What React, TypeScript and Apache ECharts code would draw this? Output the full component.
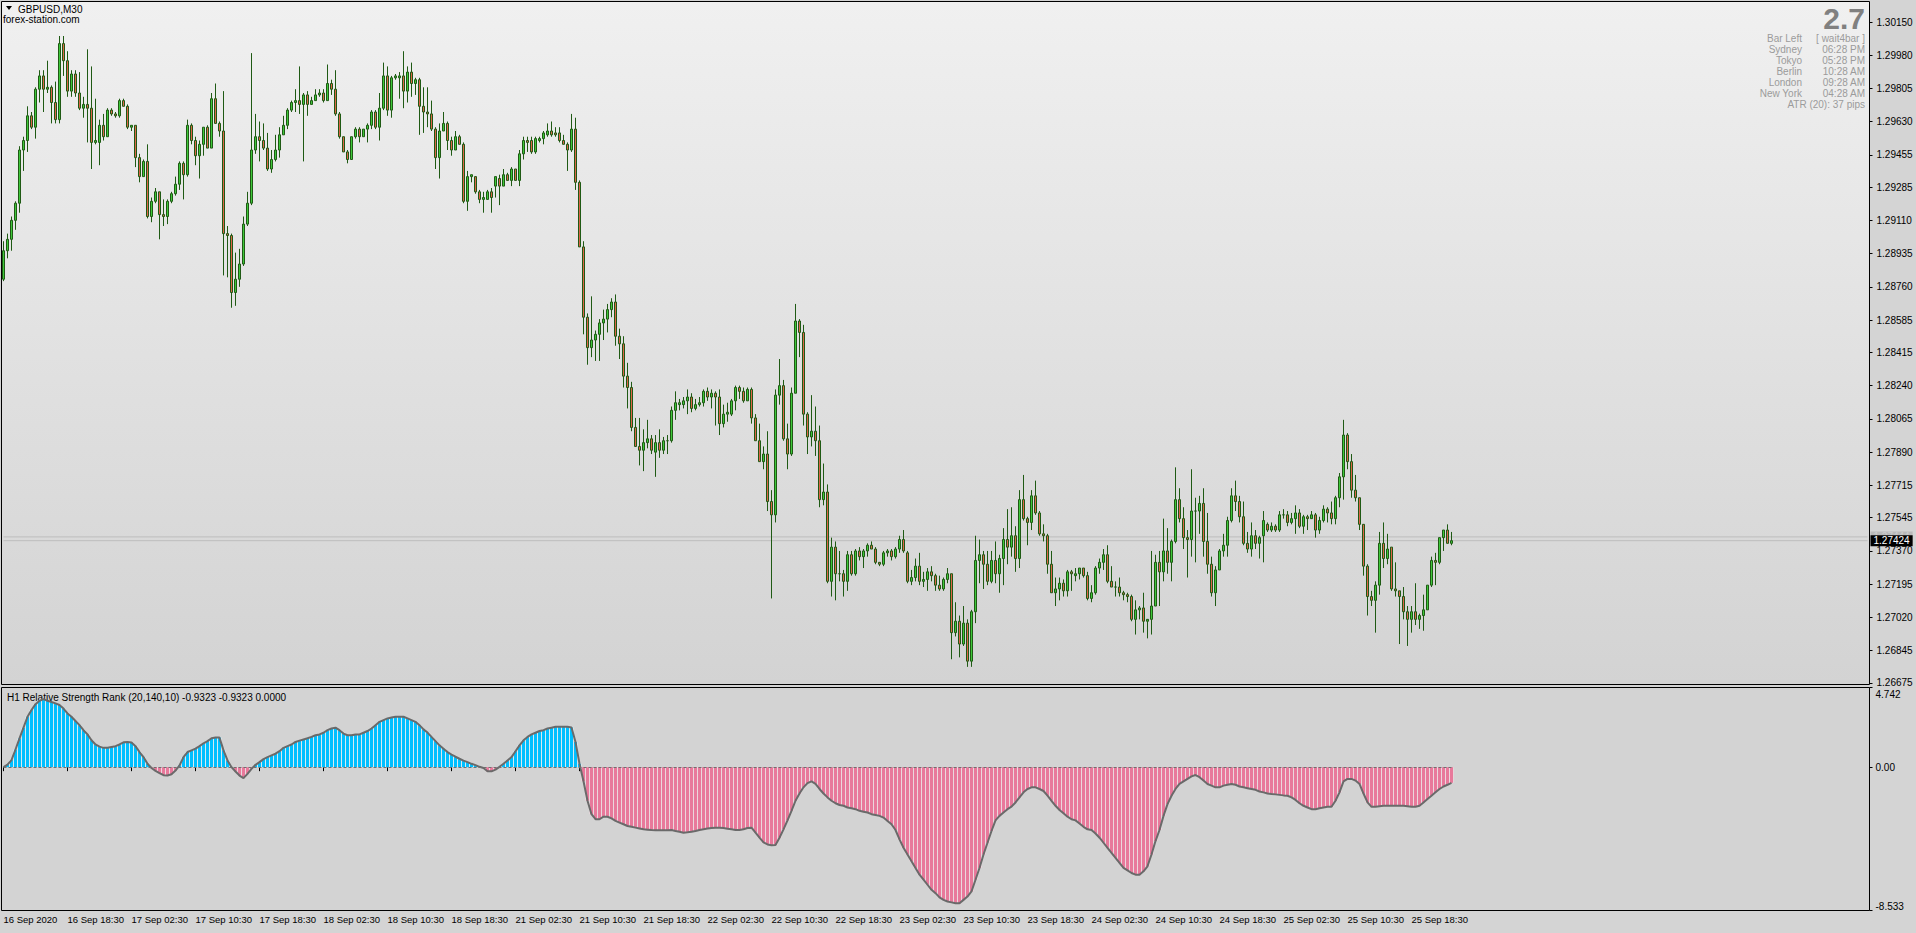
import React, { useEffect, useRef } from 'react';
import * as echarts from 'echarts';

// prices stored as pips above 1.26000
const BASE = 1.26;
const opens = [
280,295,301,311,320,348,353,366,360,380,
387,380,381,373,364,404,395,379,388,378,
370,372,370,352,352,361,355,369,367,366,
374,371,360,361,344,334,342,313,321,326,
314,313,321,325,330,341,335,361,353,345,
351,360,349,375,362,358,304,303,273,280,
288,309,320,348,355,353,349,338,343,348,
356,361,369,373,374,372,377,372,374,377,
378,374,383,380,367,355,347,343,355,359,
355,359,361,368,360,370,387,369,386,386,
387,379,389,383,385,371,368,367,359,344,
358,362,353,348,355,351,321,334,334,326,
322,322,326,329,333,329,335,332,338,332,
346,353,353,347,353,354,356,358,357,357,
353,351,348,359,331,297,260,244,248,251,
257,259,264,268,250,246,229,223,202,192,
190,194,196,189,194,190,195,195,211,214,
214,216,218,212,214,215,221,218,220,218,
204,209,209,216,223,221,216,222,207,195,
184,188,163,156,219,224,196,188,220,258,
252,209,197,200,195,164,168,121,139,125,
125,121,135,125,137,134,137,140,138,131,
130,136,137,134,138,143,136,121,123,129,
121,122,126,124,119,117,122,125,94,100,
88,99,79,105,132,135,130,121,132,125,
133,143,139,145,133,164,154,152,166,157,
146,145,130,115,117,120,116,126,124,125,
128,124,112,115,128,131,135,121,118,118,
115,114,113,101,106,107,100,101,108,131,
126,137,131,142,164,154,144,143,158,158,
162,142,130,115,127,137,140,153,166,163,
155,141,138,145,141,145,151,148,150,148,
156,156,152,154,157,150,155,154,156,148,
153,159,157,154,165,176,198,184,169,165,
151,129,113,111,119,141,133,139,117,116,
113,105,101,105,101,103,106,119,132,131,
144,148,141];
const closes = [
295,301,311,320,348,353,366,360,380,387,
380,381,373,364,404,395,379,388,378,370,
372,370,352,353,361,355,369,367,366,374,
371,360,361,344,334,342,313,321,326,314,
313,321,325,330,341,335,361,353,345,351,
360,349,375,362,358,304,303,273,280,288,
309,320,348,355,353,349,338,343,348,356,
361,369,373,374,372,377,372,374,377,378,
374,383,380,367,355,347,343,355,359,355,
359,361,368,360,370,387,369,386,387,387,
379,389,383,385,371,368,367,359,344,358,
362,353,348,355,351,321,334,335,326,322,
323,326,323,334,329,335,332,338,332,346,
353,352,347,354,354,357,358,356,356,353,
351,348,359,331,297,260,244,248,251,257,
259,264,268,250,246,229,223,202,192,190,
194,196,190,194,190,195,195,211,215,215,
216,218,212,214,215,221,218,220,218,204,
209,210,216,223,221,216,222,207,195,184,
188,163,156,219,224,196,188,220,258,252,
209,197,200,195,164,168,121,139,125,125,
121,135,125,137,134,137,140,138,131,130,
136,137,134,138,143,137,121,123,129,121,
122,126,124,119,117,122,125,94,100,88,
99,79,105,132,135,130,121,132,125,133,
143,139,145,133,164,154,152,166,157,146,
145,130,115,117,120,116,126,125,125,128,
124,112,115,128,131,135,121,118,118,115,
114,113,101,106,107,100,101,108,131,126,
137,131,142,164,154,144,143,158,158,162,
142,130,115,127,137,140,153,166,163,155,
141,138,145,141,144,153,148,150,148,156,
156,152,154,157,150,155,154,156,148,153,
159,157,154,165,176,198,184,169,165,151,
129,113,111,119,141,133,138,117,116,113,
105,101,105,101,103,106,119,132,131,144,
148,141,142.4];
const highs = [
300,304,313,321,350,355,371,368,381,390,
390,395,382,384,408,408,400,390,390,389,
376,401,392,375,364,367,370,370,368,375,
375,372,361,361,346,343,351,323,328,326,
322,322,326,334,342,342,364,362,355,353,
360,361,378,383,363,379,308,304,294,296,
313,326,399,367,363,362,357,348,356,360,
366,370,374,380,392,378,379,376,380,380,
380,393,385,390,368,355,348,355,360,360,
359,362,369,369,378,394,392,387,388,389,
400,392,394,386,386,381,381,374,360,362,
368,363,355,358,356,352,337,335,334,327,
326,327,328,334,335,338,336,339,338,348,
355,355,355,355,355,358,362,363,360,360,
356,352,367,365,332,300,262,271,253,259,
264,267,270,272,254,250,236,226,207,207,
201,206,198,198,201,197,198,213,221,217,
218,222,220,217,218,222,223,222,221,222,
214,215,217,224,224,223,223,223,209,204,
192,200,169,222,238,227,204,223,267,259,
256,210,219,213,203,183,172,144,142,137,
127,137,137,138,139,138,141,142,139,131,
137,138,138,139,145,148,137,127,133,136,
126,128,129,125,124,123,128,125,110,103,
108,101,106,145,143,137,137,137,142,135,
149,159,160,150,169,177,155,169,174,158,
151,146,137,123,123,122,127,127,128,128,
128,126,119,129,133,138,140,129,121,123,
116,115,114,111,108,115,101,137,135,137,
154,149,143,181,170,160,148,180,165,166,
170,157,134,129,138,146,155,170,174,166,
163,147,152,148,145,158,152,152,151,158,
159,158,157,161,159,156,156,158,157,155,
161,160,163,166,178,206,199,188,177,165,
151,130,116,121,147,152,146,139,131,116,
118,108,108,120,104,114,119,134,136,144,
148,151,147];
const lows = [
279,291,295,306,315,337,347,359,354,373,
368,378,362,362,362,387,376,376,376,369,
365,352,338,351,340,353,355,366,365,365,
371,359,358,339,331,334,312,310,320,301,
308,309,320,324,327,322,334,351,340,333,
345,349,349,362,355,282,281,265,266,276,
287,308,319,346,342,348,337,336,342,344,
356,359,368,368,367,342,366,372,374,376,
373,374,377,366,354,347,341,343,354,352,
355,352,359,359,353,369,366,365,385,375,
370,373,376,377,356,357,360,358,338,333,
358,348,345,348,351,320,316,331,325,320,
315,322,315,323,319,329,332,329,332,329,
343,347,346,346,352,351,355,355,355,352,
351,337,347,327,297,251,235,239,237,237,
248,252,260,245,238,223,212,200,192,182,
179,191,188,176,186,188,188,194,206,211,
212,209,210,211,213,213,216,212,203,198,
202,205,208,211,217,215,216,204,195,184,
180,158,112,152,214,195,180,187,220,239,
203,188,192,187,160,161,120,113,111,121,
113,116,124,124,132,128,134,138,130,129,
129,134,132,133,136,136,120,119,121,119,
118,116,121,116,116,116,120,80,92,81,
87,76,76,99,120,117,119,120,120,115,
119,130,134,126,128,153,140,148,156,145,
142,125,115,108,111,113,113,116,121,122,
123,111,110,114,125,127,120,118,113,113,
111,110,100,93,101,94,91,93,108,108,
121,125,121,141,152,138,123,134,131,146,
134,125,113,108,127,134,134,152,158,152,
140,136,134,138,133,131,147,147,147,147,
154,150,151,146,149,146,148,154,144,146,
152,152,151,151,160,164,180,165,163,148,
124,103,108,94,114,128,130,116,113,88,
101,87,94,98,96,95,106,118,119,130,
137,141,140];

// H1 Relative Strength Rank values per bar
const rsr = [
0,0.15,0.42,1.05,1.71,2.35,3.0,3.4,3.75,3.95,
4.05,3.95,3.88,3.8,3.7,3.49,3.2,3.0,2.75,2.5,
2.2,1.95,1.6,1.35,1.22,1.15,1.15,1.2,1.25,1.35,
1.48,1.5,1.47,1.25,0.9,0.6,0.2,-0.05,-0.22,-0.35,
-0.48,-0.5,-0.42,-0.2,0.1,0.6,0.9,1.0,1.1,1.25,
1.42,1.55,1.72,1.76,1.76,1.0,0.4,0.0,-0.26,-0.5,
-0.65,-0.4,-0.1,0.14,0.3,0.48,0.6,0.7,0.8,0.95,
1.15,1.25,1.35,1.5,1.58,1.65,1.72,1.8,1.9,1.95,
2.05,2.2,2.3,2.35,2.2,2.0,1.9,1.9,1.95,1.95,
2.05,2.15,2.3,2.5,2.7,2.8,2.9,2.95,3.0,3.0,
3.0,2.9,2.8,2.7,2.5,2.25,2.06,1.8,1.55,1.3,
1.1,0.9,0.75,0.62,0.5,0.39,0.3,0.2,0.12,0.02,
-0.05,-0.25,-0.25,-0.15,0.02,0.2,0.4,0.6,0.95,1.3,
1.6,1.8,1.95,2.05,2.15,2.2,2.3,2.35,2.4,2.4,
2.4,2.4,2.36,1.5,0.2,-0.84,-2.0,-2.8,-3.1,-3.1,
-2.95,-2.95,-3.05,-3.2,-3.3,-3.4,-3.5,-3.55,-3.6,-3.65,
-3.7,-3.72,-3.74,-3.75,-3.75,-3.75,-3.75,-3.74,-3.8,-3.85,
-3.9,-3.88,-3.85,-3.8,-3.74,-3.7,-3.65,-3.62,-3.6,-3.6,
-3.62,-3.66,-3.7,-3.74,-3.74,-3.7,-3.62,-3.6,-3.9,-4.2,
-4.48,-4.6,-4.65,-4.63,-4.2,-3.7,-3.17,-2.6,-2.0,-1.57,
-1.2,-0.95,-0.85,-1.0,-1.3,-1.57,-1.8,-2.0,-2.15,-2.25,
-2.3,-2.4,-2.45,-2.5,-2.6,-2.65,-2.7,-2.8,-2.85,-2.9,
-3.0,-3.2,-3.4,-3.74,-4.3,-4.8,-5.2,-5.6,-6.0,-6.4,
-6.7,-7.0,-7.3,-7.5,-7.75,-7.9,-8.0,-8.05,-8.1,-8.1,
-7.9,-7.7,-7.4,-6.7,-6.0,-5.2,-4.5,-3.8,-3.17,-2.9,
-2.7,-2.5,-2.35,-2.1,-1.8,-1.5,-1.3,-1.2,-1.2,-1.3,
-1.42,-1.7,-2.0,-2.3,-2.55,-2.75,-2.95,-3.1,-3.17,-3.35,
-3.55,-3.7,-3.74,-3.95,-4.2,-4.5,-4.8,-5.1,-5.4,-5.7,
-6.0,-6.15,-6.3,-6.4,-6.4,-6.2,-5.9,-5.2,-4.4,-3.74,
-2.9,-2.2,-1.7,-1.3,-1.0,-0.85,-0.7,-0.55,-0.47,-0.6,
-0.8,-1.0,-1.1,-1.2,-1.2,-1.1,-1.05,-1.0,-1.05,-1.15,
-1.2,-1.25,-1.3,-1.35,-1.45,-1.5,-1.57,-1.6,-1.62,-1.65,
-1.68,-1.7,-1.8,-1.95,-2.15,-2.3,-2.4,-2.5,-2.5,-2.45,
-2.4,-2.36,-2.36,-2.0,-1.5,-0.85,-0.7,-0.7,-0.8,-1.0,
-1.57,-2.1,-2.36,-2.36,-2.33,-2.3,-2.3,-2.3,-2.3,-2.3,
-2.3,-2.33,-2.36,-2.36,-2.3,-2.1,-1.9,-1.7,-1.5,-1.3,
-1.15,-1.05,-0.9323];

const timeLabels = ['16 Sep 2020','16 Sep 18:30','17 Sep 02:30','17 Sep 10:30','17 Sep 18:30','18 Sep 02:30','18 Sep 10:30','18 Sep 18:30','21 Sep 02:30','21 Sep 10:30','21 Sep 18:30','22 Sep 02:30','22 Sep 10:30','22 Sep 18:30','23 Sep 02:30','23 Sep 10:30','23 Sep 18:30','24 Sep 02:30','24 Sep 10:30','24 Sep 18:30','25 Sep 02:30','25 Sep 10:30','25 Sep 18:30'];
const LABEL_EVERY = 16;
const SLOTS = 467;
const priceTicks = [1.30150,1.29980,1.29805,1.29630,1.29455,1.29285,1.29110,1.28935,1.28760,1.28585,1.28415,1.28240,1.28065,1.27890,1.27715,1.27545,1.27370,1.27195,1.27020,1.26845,1.26675];
const bidPrice = 1.27424;
const askPrice = 1.27444;
const indTicks = [4.742, 0, -8.533];
const infoLabels = ['Bar Left','Sydney','Tokyo','Berlin','London','New York'];
const infoValues = ['[ wait4bar ]','06:28 PM','05:28 PM','10:28 AM','09:28 AM','04:28 AM'];
const atrText = 'ATR (20): 37 pips';
const spreadText = '2.7';
const indTitle = 'H1 Relative Strength Rank (20,140,10) -0.9323 -0.9323 0.0000';

const FONT = '"Liberation Sans", Arial, sans-serif';

export default function App() {
  const ref = useRef<HTMLDivElement>(null);
  useEffect(() => {
    if (!ref.current) return;
    const chart = echarts.init(ref.current, undefined, { renderer: 'svg' });
    const P = (v: number) => +(BASE + v / 10000).toFixed(5);
    const candles = opens.map((o, i) => [P(o), P(closes[i]), P(lows[i]), P(highs[i])]);
    const cats = Array.from({ length: SLOTS }, (_, i) => String(i));
    const showIdx = (i: number) => i % LABEL_EVERY === 0 && i / LABEL_EVERY < timeLabels.length;
    const last = opens.length - 1;

    const infoGraphics: any[] = [];
    const rowY = [38, 49, 60, 71, 82, 93];
    infoLabels.forEach((t, k) => {
      infoGraphics.push({ type: 'text', x: 1802, y: rowY[k], style: { text: t, fill: '#9b9b9b', font: `10px ${FONT}`, align: 'right', verticalAlign: 'middle' } });
      infoGraphics.push({ type: 'text', x: 1865, y: rowY[k], style: { text: infoValues[k], fill: '#9b9b9b', font: `10px ${FONT}`, align: 'right', verticalAlign: 'middle' } });
    });

    const priceLine = (price: number, bg: string, fg: string, z: number) => ({
      type: 'line', xAxisIndex: 0, yAxisIndex: 0, z, silent: true, symbol: 'none',
      data: [[0, price], [SLOTS - 1, price]],
      lineStyle: { color: '#bdbdbd', width: 1 },
      endLabel: { show: true, distance: 3, formatter: price.toFixed(5), backgroundColor: bg, color: fg,
        padding: [1, 3, 0, 3], fontSize: 10, fontFamily: FONT },
    });

    chart.setOption({
      animation: false,
      backgroundColor: '#d4d4d4',
      grid: [
        { left: 1.5, top: 1.5, width: 1868, height: 683, show: true, borderColor: '#000', borderWidth: 1,
          backgroundColor: { type: 'linear', x: 0, y: 0, x2: 0, y2: 1, colorStops: [{ offset: 0, color: '#f0f0f0' }, { offset: 1, color: '#d3d3d3' }] } },
        { left: 1.5, top: 687.5, width: 1868, height: 223, show: true, borderColor: '#000', borderWidth: 1, backgroundColor: '#d3d3d3' },
      ],
      xAxis: [
        { type: 'category', gridIndex: 0, data: cats, boundaryGap: true, show: false },
        { type: 'category', gridIndex: 1, data: cats, boundaryGap: true,
          axisLine: { show: false },
          axisTick: { show: true, alignWithLabel: true, interval: (i: number) => showIdx(i), length: 4, lineStyle: { color: '#000' } },
          axisLabel: { show: true, interval: (i: number) => showIdx(i), formatter: (_v: string, i: number) => (showIdx(i) ? timeLabels[i / LABEL_EVERY] : ''),
            align: 'left', margin: 4, color: '#000', fontSize: 9.5, fontFamily: FONT },
        },
        { type: 'category', gridIndex: 1, data: cats, boundaryGap: true, show: false },
      ],
      yAxis: [
        { type: 'value', gridIndex: 0, position: 'right', min: 1.266671, max: 1.302616,
          axisLine: { show: false }, splitLine: { show: false },
          axisTick: { show: true, length: 3, customValues: priceTicks, lineStyle: { color: '#000' } },
          axisLabel: { show: true, customValues: priceTicks, formatter: (v: number) => v.toFixed(5), margin: 7, color: '#000', fontSize: 10, fontFamily: FONT } },
        { type: 'value', gridIndex: 1, position: 'right', min: -8.533, max: 4.742,
          axisLine: { show: false }, splitLine: { show: false },
          axisTick: { show: true, length: 3, customValues: indTicks, lineStyle: { color: '#000' } },
          axisLabel: { show: true, customValues: indTicks, margin: 6, color: '#000', fontSize: 10, fontFamily: FONT,
            formatter: (v: number) => (v > 0 ? `{t|${v.toFixed(3)}}` : v < 0 ? `{b|${v.toFixed(3)}}` : `{m|0.00}`),
            rich: {
              t: { padding: [13, 0, 0, 0], fontSize: 10, fontFamily: FONT, color: '#000' },
              b: { padding: [0, 0, 9, 0], fontSize: 10, fontFamily: FONT, color: '#000' },
              m: { fontSize: 10, fontFamily: FONT, color: '#000' },
            } } },
      ],
      series: [
        priceLine(askPrice, '#b9b9b9', '#cdcdcd', 1),
        priceLine(bidPrice, '#000', '#fff', 1),
        { type: 'candlestick', xAxisIndex: 0, yAxisIndex: 0, z: 3, data: candles, barWidth: 3,
          itemStyle: { color: '#3ec83a', color0: '#dd6548', borderColor: '#1f5a14', borderColor0: '#1f5a14', borderWidth: 1 } },
        { type: 'bar', xAxisIndex: 2, yAxisIndex: 1, data: rsr, barWidth: 4, z: 1,
          itemStyle: { color: (p: any) => (p.value >= 0 ? '#d8f1fb' : '#f4d9e1') } },
        { type: 'bar', xAxisIndex: 1, yAxisIndex: 1, data: rsr, barWidth: 3, z: 2,
          itemStyle: { color: (p: any) => (p.value >= 0 ? '#00bfff' : '#e8799b') } },
        { type: 'line', xAxisIndex: 1, yAxisIndex: 1, data: rsr, symbol: 'none', z: 4, lineStyle: { color: '#6a6a6a', width: 2 },
          markLine: { silent: true, symbol: 'none', label: { show: false }, lineStyle: { color: '#707070', type: [3, 2], width: 1 },
            data: [[{ coord: [0, 0] }, { coord: [last, 0] }]] } },
      ],
      graphic: [
        { type: 'polygon', shape: { points: [[6, 6], [12, 6], [9, 10]] }, style: { fill: '#000' } },
        { type: 'text', x: 18, y: 9, style: { text: 'GBPUSD,M30', fill: '#000', font: `10px ${FONT}`, verticalAlign: 'middle' } },
        { type: 'text', x: 3, y: 19, style: { text: 'forex-station.com', fill: '#000', font: `10px ${FONT}`, verticalAlign: 'middle' } },
        { type: 'text', x: 1865, y: 18.5, style: { text: spreadText, fill: '#808080', font: `bold 30px ${FONT}`, align: 'right', verticalAlign: 'middle' } },
        ...infoGraphics,
        { type: 'text', x: 1865, y: 104, style: { text: atrText, fill: '#9b9b9b', font: `10px ${FONT}`, align: 'right', verticalAlign: 'middle' } },
        { type: 'text', x: 7, y: 697, style: { text: indTitle, fill: '#000', font: `10px ${FONT}`, verticalAlign: 'middle' } },
      ],
    });
    return () => chart.dispose();
  }, []);
  return <div ref={ref} style={{ position: 'fixed', left: 0, top: 0, width: 1916, height: 933 }} />;
}
